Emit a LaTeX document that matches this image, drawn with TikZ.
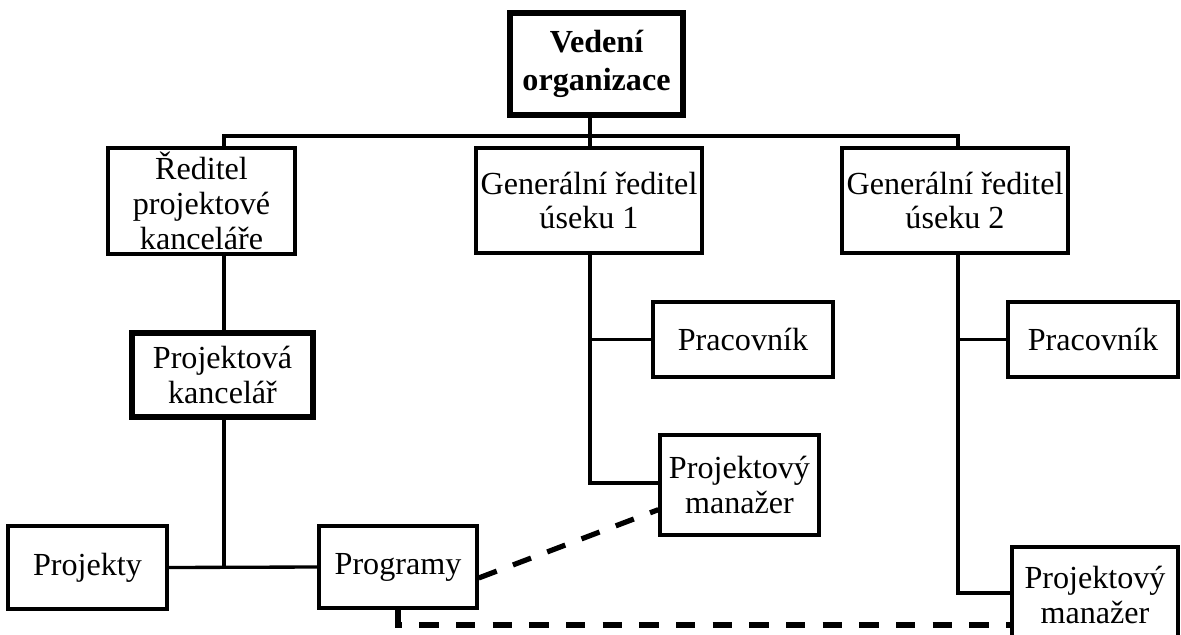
\documentclass[tikz,border=0pt]{standalone}
\usepackage{fontspec}
\setmainfont{Liberation Serif}
\begin{document}
\begin{tikzpicture}[x=0.75pt,y=-0.75pt,
  box/.style={draw, line width=2.5pt, align=center, inner sep=0pt,
    font=\fontsize{24.1}{26.2}\selectfont},
  keybox/.style={box, line width=4.75pt},
  link/.style={line width=2.5pt},
  dashlink/.style={line width=3.9pt, dash pattern=on 14.5pt off 13pt}]
\useasboundingbox (0,0) rectangle (1181,635);
\fill[white] (0,0) rectangle (1181,635);
\clip (0,0) rectangle (1181,635);

% boxes
\node[keybox, minimum width=129.75pt, minimum height=76.5pt, font=\fontsize{24.1}{28}\selectfont\bfseries]
  (top) at (596.5,64) {Vedení\\organizace};
\node[box, minimum width=140.25pt, minimum height=79.5pt] (red) at (201.5,201)
  {Ředitel\\projektové\\kanceláře};
\node[box, minimum width=169.5pt, minimum height=78.75pt] (g1) at (589,200.5)
  {Generální ředitel\\úseku 1};
\node[box, minimum width=169.5pt, minimum height=78.75pt] (g2) at (955,200.5)
  {Generální ředitel\\úseku 2};
\node[keybox, minimum width=135.75pt, minimum height=63pt] (pk) at (222.5,375)
  {Projektová\\kancelář};
\node[box, minimum width=119.25pt, minimum height=62.25pt] (projekty) at (87.5,567.5)
  {Projekty};
\node[box, minimum width=118.5pt, minimum height=61.5pt] (programy) at (398,567)
  {Programy};
\node[box, minimum width=135pt, minimum height=56.25pt] (prac1) at (743,339.5)
  {Pracovník};
\node[box, minimum width=127.5pt, minimum height=56.25pt] (prac2) at (1093,339.5)
  {Pracovník};
\node[box, minimum width=119.25pt, minimum height=75pt] (pm1) at (739.5,485)
  {Projektový\\manažer};
\node[box, minimum width=124.5pt, minimum height=72pt] (pm2) at (1095,595)
  {Projektový\\manažer};

% bus positions
\coordinate (busL) at (224,136);
\coordinate (busM) at (590,136);
\coordinate (busR) at (958,136);

% top level bus
\draw[link] (top.south -| busM) -- (g1.north -| busM);
\draw[link] (red.north -| busL) -- (busL) -- (busR) -- (g2.north -| busR);

% project office branch
\draw[link] (red.south -| busL) -- (pk.north -| busL);
\draw[link] (pk.south -| busL) -- (busL |- projekty.east);
\draw[link] (projekty.east) -- (programy.west);

% division 1
\draw[link] (g1.south -| busM) |- ([yshift=1.5pt]pm1.west);
\draw[link] (busM |- prac1.west) -- (prac1.west);

% division 2
\draw[link] (g2.south -| busR) |- ([yshift=1.5pt]pm2.west);
\draw[link] (busR |- prac2.west) -- (prac2.west);

% programme links to project managers
\draw[dashlink] ([yshift=-8.25pt]programy.east) -- ([yshift=-18.5pt]pm1.west);
\draw[dashlink] (programy.south) |- ([yshift=-22.5pt]pm2.west);
\end{tikzpicture}
\end{document}
